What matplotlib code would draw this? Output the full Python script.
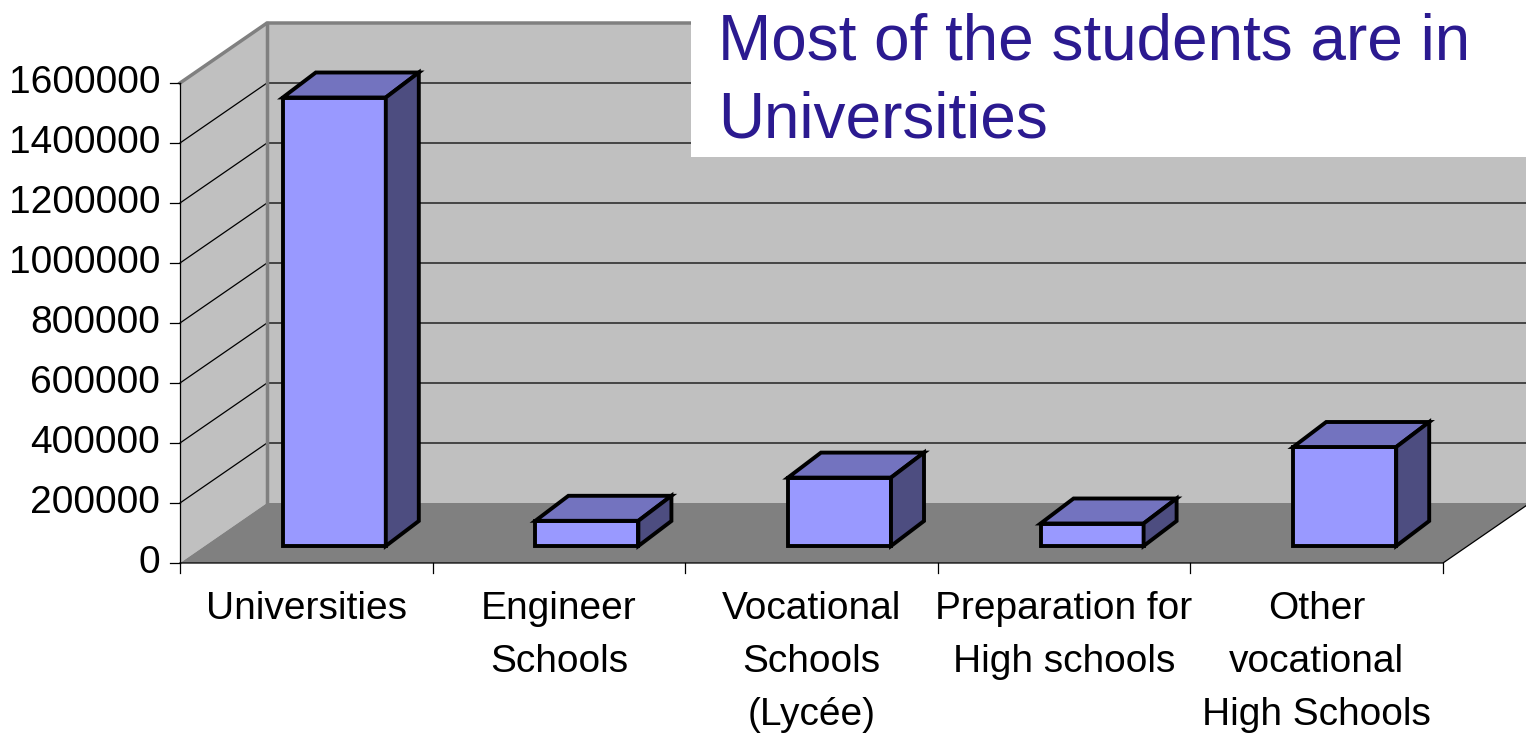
import matplotlib.pyplot as plt
from matplotlib.patches import Polygon, Rectangle

plt.rcParams['font.family'] = ['Liberation Sans', 'DejaVu Sans']

categories = ["Universities", "Engineer\nSchools", "Vocational\nSchools\n(Lycée)",
              "Preparation for\nHigh schools", "Other\nvocational\nHigh Schools"]
students = [1495000, 84000, 228000, 75000, 330000]
yticks = list(range(0, 1600001, 200000))
title = "Most of the students are in\nUniversities"

# pseudo 3D geometry (category units / value units)
PX_CAT = 252.6            # pixels per category
PX_VAL = 60 / 200000      # pixels per value unit
DX, DY = 87 / PX_CAT, 60 / PX_VAL          # wall depth
W = 103 / PX_CAT                           # bar width
FX, FY = 28 / PX_CAT, 17 / PX_VAL          # bar front offset
BX, BY = 33 / PX_CAT, 25 / PX_VAL          # bar depth
n = len(categories)
ymax = yticks[-1]

fig = plt.figure(figsize=(15.26, 7.34), dpi=100)
ax = fig.add_axes([0, 0, 1, 1])
ax.set_xlim(-180 / PX_CAT, (1526 - 180) / PX_CAT)
ax.set_ylim((563 - 734) / PX_VAL, 563 / PX_VAL)
ax.axis('off')

# walls and floor
ax.add_patch(Polygon([(DX, DY), (n + DX, DY), (n + DX, ymax + DY), (DX, ymax + DY)],
                     facecolor='#C0C0C0', edgecolor='none', zorder=1))
ax.add_patch(Polygon([(0, 0), (DX, DY), (DX, ymax + DY), (0, ymax)],
                     facecolor='#C0C0C0', edgecolor='none', zorder=1))
ax.add_patch(Polygon([(0, 0), (n, 0), (n + DX, DY), (DX, DY)],
                     facecolor='#808080', edgecolor='none', zorder=1))

# gridlines
for v in yticks[1:-1]:
    ax.plot([0, DX, n + DX], [v, v + DY, v + DY], color='black', lw=0.9, zorder=2)
# wall borders
ax.plot([0, DX, n + DX], [ymax, ymax + DY, ymax + DY], color='#808080', lw=2.5, zorder=2)
ax.plot([DX, DX], [DY, ymax + DY], color='#808080', lw=2.5, zorder=2)

# axes lines and ticks
ax.plot([0, 0], [0, ymax], color='black', lw=0.9, zorder=3)
ax.plot([0, n, n + DX], [0, 0, DY], color='black', lw=0.9, zorder=3)
for v in yticks:
    ax.plot([-10 / PX_CAT, 0], [v, v], color='black', lw=0.9, zorder=3)
    ax.text(-20 / PX_CAT, v, str(v), ha='right', va='center', fontsize=28)
for i in range(n + 1):
    ax.plot([i, i], [0, -10 / PX_VAL], color='black', lw=0.9, zorder=3)

for i, lab in enumerate(categories):
    ax.text(i + 0.5, -28 / PX_VAL, lab, ha='center', va='top', fontsize=28,
            linespacing=1.6)

# bars
for i, v in enumerate(students):
    x0 = i + 0.5 - W / 2 + FX
    y0 = FY
    kw = dict(edgecolor='black', lw=2.8, joinstyle='miter', zorder=5)
    ax.add_patch(Rectangle((x0, y0), W, v, facecolor='#9999FF', **kw))
    ax.add_patch(Polygon([(x0, y0 + v), (x0 + W, y0 + v), (x0 + W + BX, y0 + v + BY),
                          (x0 + BX, y0 + v + BY)], facecolor='#7373BF', **kw))
    ax.add_patch(Polygon([(x0 + W, y0), (x0 + W + BX, y0 + BY), (x0 + W + BX, y0 + v + BY),
                          (x0 + W, y0 + v)], facecolor='#4D4D80', **kw))

# title box
fig.patches.append(Rectangle((691 / 1526, 1 - 157 / 734), 1, 157 / 734,
                             transform=fig.transFigure, facecolor='white',
                             edgecolor='none', zorder=10))
fig.text(718 / 1526, 1 - 12 / 734, title, ha='left', va='top', fontsize=46,
         color='#2B1A90', linespacing=1.4, zorder=11)

fig.savefig('out.png', dpi=100)
